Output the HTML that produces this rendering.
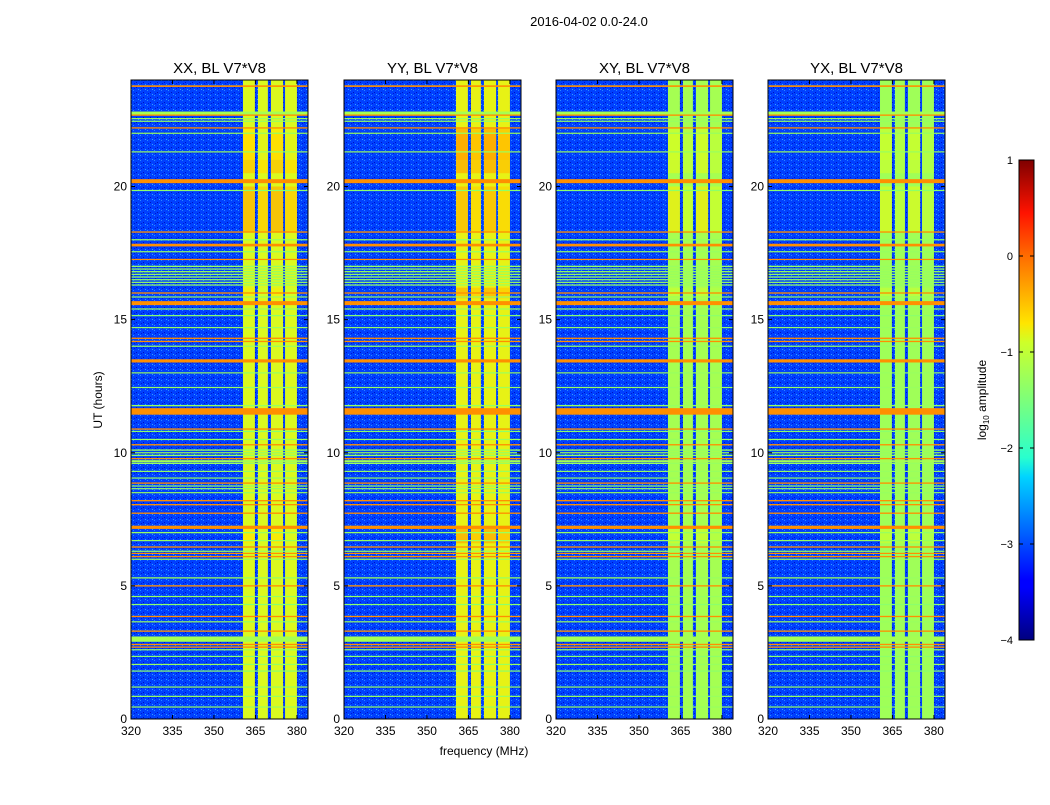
<!DOCTYPE html>
<html><head><meta charset="utf-8"><style>
body{margin:0;background:#fff;font-family:"Liberation Sans",sans-serif;}
svg text{font-family:"Liberation Sans",sans-serif;}
</style></head><body>
<svg id="chart" width="1050" height="800" xmlns="http://www.w3.org/2000/svg">
<defs>
<linearGradient id="jet" x1="0" y1="1" x2="0" y2="0">
<stop offset="0" stop-color="#00007f"/><stop offset="0.11" stop-color="#0000ff"/>
<stop offset="0.125" stop-color="#0000ff"/><stop offset="0.34" stop-color="#00d4ff"/>
<stop offset="0.38" stop-color="#29ffce"/><stop offset="0.5" stop-color="#7dff7a"/>
<stop offset="0.62" stop-color="#ceff29"/><stop offset="0.66" stop-color="#ffe500"/>
<stop offset="0.8" stop-color="#ff6c00"/><stop offset="0.89" stop-color="#ff1300"/>
<stop offset="1" stop-color="#7f0000"/></linearGradient>
<pattern id="noise" width="7" height="5" patternUnits="userSpaceOnUse">
<rect x="0" y="0" width="1" height="1" fill="#2a8cff"/><rect x="3" y="2" width="1" height="1" fill="#0010c0"/>
<rect x="5" y="4" width="1" height="1" fill="#30a0ff"/><rect x="1" y="3" width="1" height="1" fill="#0018d0"/>
</pattern>
</defs>
<text x="589" y="26" font-size="13" text-anchor="middle">2016-04-02 0.0-24.0</text>
<g id="panels"></g>
<text x="484" y="755" font-size="12" text-anchor="middle">frequency (MHz)</text>
<text x="102" y="400" font-size="12" text-anchor="middle" transform="rotate(-90 102 400)">UT (hours)</text>
<g>
<rect x="1019" y="160" width="15" height="480" fill="url(#jet)" stroke="#000" stroke-width="1"/>
<g id="cbticks"></g>
<text x="986" y="400" font-size="12" text-anchor="middle" transform="rotate(-90 986 400)">log<tspan font-size="8" dy="3">10</tspan><tspan dy="-3"> amplitude</tspan></text>
</g>
</svg>
<script>
const panelTitles=["XX, BL V7*V8","YY, BL V7*V8","XY, BL V7*V8","YX, BL V7*V8"];
const panelLefts=[131,344,556,768];
const xTicks=[320,335,350,365,380];
const yTicks=[0,5,10,15,20];
const cbTicks=[1,0,-1,-2,-3,-4];
const bandStarts=[360.5,365.9,370.6,375.7];
const bandEnds=[364.8,369.5,375.0,380.0];
const bandLevel=[-0.85,-0.8,-1.2,-1.25];
const backgroundLevel=-3.05;
const lineHours=[23.77,22.75,22.68,22.55,22.45,22.2,22.0,21.3,20.2,19.85,18.29,18.0,17.8,17.55,17.26,17.0,16.9,16.8,16.7,16.6,16.5,16.4,16.3,16.0,15.85,15.62,15.4,15.15,14.7,14.3,14.18,14.0,13.45,13.0,12.45,11.77,11.65,11.53,10.89,10.8,10.5,10.3,10.1,10.0,9.9,9.78,9.68,9.6,9.3,9.05,8.86,8.75,8.65,8.5,8.2,8.05,7.73,7.2,7.0,6.7,6.46,6.3,6.22,6.1,6.0,5.3,5.0,4.6,4.3,3.85,3.65,3.3,3.0,2.8,2.7,2.6,2.35,2.05,1.8,1.2,0.85,0.45];
const lineLevels=[-0.2,-1.2,-0.2,-1.3,-1.3,-0.2,-1.3,-1.3,-0.2,-1.4,-0.2,-1.3,-0.2,-1.3,-0.2,-1.3,-1.3,-1.3,-1.3,-1.3,-1.3,-1.3,-1.3,-0.2,-1.3,-0.2,-1.3,-1.4,-1.3,-0.2,-0.2,-1.3,-0.2,-1.3,-1.3,-1.3,-0.2,-0.2,-0.2,-1.4,-1.3,-0.2,-1.3,-1.3,-1.3,-0.2,-1.2,-1.3,-1.3,-1.3,-0.2,-1.3,-1.3,-1.3,-0.2,-0.2,-0.2,-0.2,-1.3,-1.3,-0.2,-1.3,-0.2,-0.2,-1.3,-1.3,-0.2,-1.3,-1.4,-0.2,-1.3,-0.2,-1.2,-0.2,-0.2,-1.3,-1.4,-1.3,-1.4,-1.3,-1.3,-1.3];
const lineWidths=[0.06,0.13,0.05,0.04,0.04,0.05,0.04,0.04,0.15,0.04,0.05,0.04,0.1,0.04,0.04,0.05,0.04,0.05,0.04,0.05,0.04,0.04,0.04,0.05,0.04,0.15,0.04,0.04,0.04,0.05,0.05,0.04,0.12,0.04,0.04,0.05,0.05,0.2,0.05,0.04,0.04,0.05,0.05,0.04,0.05,0.05,0.08,0.04,0.04,0.04,0.05,0.04,0.04,0.04,0.05,0.05,0.05,0.12,0.05,0.04,0.05,0.04,0.04,0.05,0.04,0.05,0.05,0.04,0.04,0.05,0.04,0.05,0.2,0.05,0.05,0.04,0.04,0.04,0.04,0.04,0.04,0.04];
const hotStart=[18.3,20.5,6.6,21.0,15.8];
const hotEnd=[20.0,22.0,7.2,22.2,16.2];
const hotLevel=[[-0.4,-0.45,-0.75,-0.85],[-0.5,-0.35,-0.85,-0.95],[-0.7,-0.35,-0.9,-0.95],[-0.7,-0.35,-0.9,-0.95],[-0.75,-0.4,-0.95,-1.0]];

const stops=[[0,[0,0,127]],[0.11,[0,0,255]],[0.125,[0,0,255]],[0.34,[0,212,255]],[0.38,[41,255,206]],[0.5,[125,255,122]],[0.62,[206,255,41]],[0.66,[255,229,0]],[0.8,[255,108,0]],[0.89,[255,19,0]],[1,[127,0,0]]];
function jet(v){let t=Math.max(0,Math.min(1,(v+4)/5));for(let i=1;i<stops.length;i++){if(t<=stops[i][0]){const a=stops[i-1],b=stops[i],f=(t-a[0])/(b[0]-a[0]||1);return 'rgb('+a[1].map((c,k)=>Math.round(c+(b[1][k]-c)*f)).join(',')+')';}}return 'rgb(127,0,0)';}
const NS="http://www.w3.org/2000/svg";
function mk(tag,attrs,parent){const e=document.createElementNS(NS,tag);for(const k in attrs)e.setAttribute(k,attrs[k]);parent.appendChild(e);return e;}
const plotTop=80,plotBottom=719,pw=177;
function yS(h){return plotBottom-(h/24)*(plotBottom-plotTop);}
const root=document.getElementById('panels');
panelLefts.forEach((L,p)=>{
  const xS=f=>L+(f-320)/64*pw;
  const g=mk('g',{},root);
  
  
  const bg=mk('rect',{x:L,y:plotTop,width:pw,height:plotBottom-plotTop,fill:jet(backgroundLevel)},g);
  
  
  const nz=mk('rect',{x:L,y:plotTop,width:pw,height:plotBottom-plotTop,fill:'url(#noise)'},g);
  
  
  bandStarts.forEach((s,i)=>{
    const r=mk('rect',{x:xS(s),y:plotTop,width:xS(bandEnds[i])-xS(s),height:plotBottom-plotTop,fill:jet(bandLevel[p])},g);
    
    
    hotStart.forEach((hs,j)=>{
      const hr=mk('rect',{x:xS(s),y:yS(hotEnd[j]),width:xS(bandEnds[i])-xS(s),height:yS(hs)-yS(hotEnd[j]),fill:jet(hotLevel[j][p]+(i%2?-0.15:0)),opacity:0.75},g);
      
      
    });
  });
  lineHours.forEach((h,i)=>{
    const hh=Math.max(1.2,lineWidths[i]/24*(plotBottom-plotTop));
    const r=mk('rect',{x:L,y:yS(h)-hh/2,width:pw,height:hh,fill:jet(lineLevels[i])},g);
    
    
  });
  mk('rect',{x:L,y:plotTop,width:pw,height:plotBottom-plotTop,fill:'none',stroke:'#000','stroke-width':1},g);
  const t=mk('text',{x:L+pw/2,y:73,'font-size':15,'text-anchor':'middle'},g);t.textContent=panelTitles[p];
  
  
  xTicks.forEach(v=>{const x=xS(v);mk('line',{x1:x,x2:x,y1:plotBottom,y2:plotBottom-4,stroke:'#000'},g);mk('line',{x1:x,x2:x,y1:plotTop,y2:plotTop+4,stroke:'#000'},g);
    const tt=mk('text',{x:x,y:plotBottom+16,'font-size':12,'text-anchor':'middle'},g);tt.textContent=v;
    
    });
  yTicks.forEach(v=>{const y=yS(v);mk('line',{x1:L,x2:L+4,y1:y,y2:y,stroke:'#000'},g);mk('line',{x1:L+pw,x2:L+pw-4,y1:y,y2:y,stroke:'#000'},g);
    const tt=mk('text',{x:L-4,y:y+4,'font-size':12,'text-anchor':'end'},g);tt.textContent=v;
    
    });
});
const cb=document.getElementById('cbticks');
cbTicks.forEach(v=>{const y=160+(1-v)/5*480;mk('line',{x1:1019,x2:1023,y1:y,y2:y,stroke:'#000'},cb);mk('line',{x1:1030,x2:1034,y1:y,y2:y,stroke:'#000'},cb);
  const tt=mk('text',{x:1013,y:y+4,'font-size':11,'text-anchor':'end'},cb);tt.textContent=(v<0?'\u2212'+(-v):v);
  
  });
</script>
</body></html>
